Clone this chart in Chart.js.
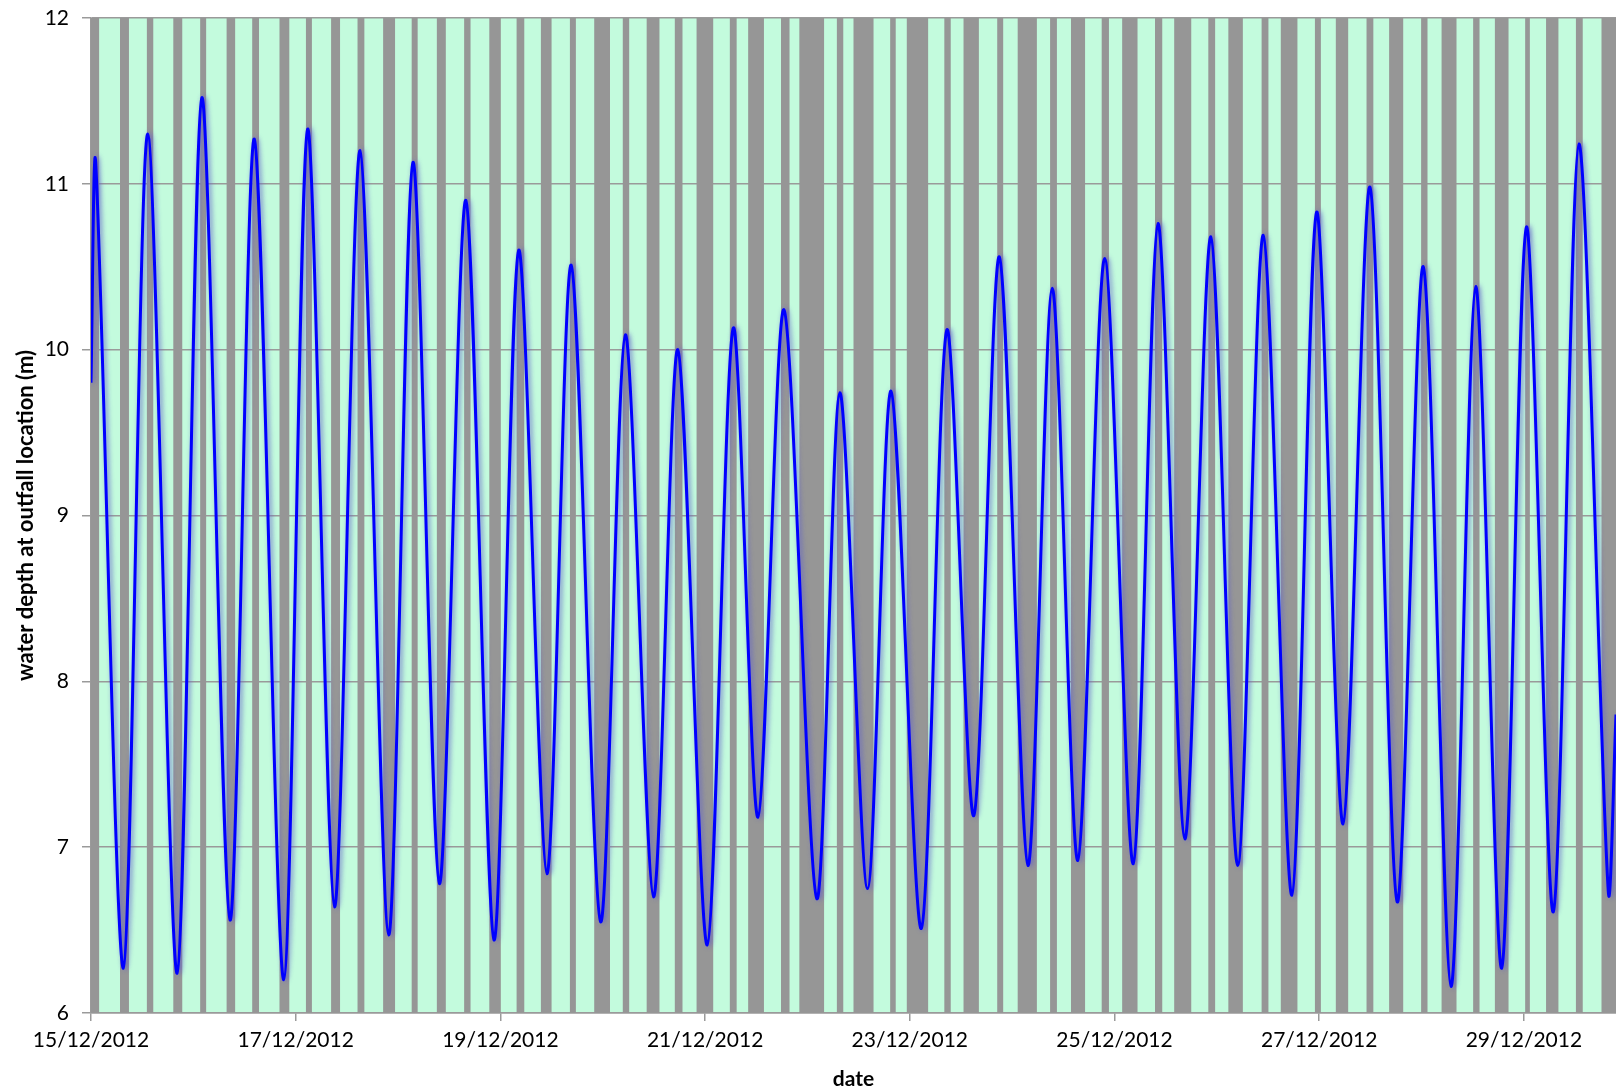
<!DOCTYPE html>
<html>
<head>
<meta charset="utf-8">
<script src="https://cdn.jsdelivr.net/npm/chart.js@4/dist/chart.umd.min.js"></script>
<style>
  html, body { margin: 0; padding: 0; background: #fff; }
  #wrap { width: 1616px; height: 1092px; }
</style>
</head>
<body>
<div id="wrap"><canvas id="line-chart"></canvas></div>
<script>
// hours after 15/12/2012 00:00
let tideHours = [0, 1.1, 7.6, 13.3, 20.2, 26.0, 32.6, 38.3, 45.2, 50.8, 57.1, 63.1, 69.8, 75.5, 81.7,
    87.9, 94.5, 100.3, 106.9, 112.6, 119.5, 125.3, 131.9, 137.6, 144.5, 150.6, 156.4, 162.5, 170.2,
    175.6, 182.1, 187.6, 194.7, 200.7, 207.0, 213.0, 219.7, 225.4, 231.4, 237.7, 244.4, 250.2, 256.5,
    262.6, 268.9, 274.9, 281.6, 287.4, 293.6, 299.9, 306.3, 312.4, 318.9, 324.7, 330.8, 336.6, 342.9,
    348.9, 355.8, 357.6];
let tideDepth = [9.8, 11.13, 6.27, 11.30, 6.24, 11.52, 6.56, 11.27, 6.20, 11.33, 6.64, 11.20, 6.47, 11.13, 6.78,
    10.90, 6.44, 10.60, 6.84, 10.51, 6.55, 10.09, 6.70, 10.00, 6.41, 10.13, 7.18, 10.24, 6.69,
    9.74, 6.75, 9.75, 6.51, 10.12, 7.19, 10.56, 6.89, 10.37, 6.92, 10.55, 6.90, 10.76, 7.05,
    10.68, 6.89, 10.69, 6.71, 10.83, 7.14, 10.98, 6.67, 10.50, 6.16, 10.38, 6.27, 10.74, 6.61,
    11.24, 6.73, 7.8];

// grey periods (hours)
let greyStart = [0, 6.8, 13.1, 19.3, 25.6, 31.8, 37.8, 44.2, 50.4, 56.3, 62.5, 68.5, 75.2, 81.1, 87.5,
    93.4, 99.8, 105.5, 112.3, 118.0, 124.7, 130.3, 136.9, 142.0, 149.8, 154.1, 161.8, 166.1, 174.9,
    178.8, 187.4, 191.3, 200.1, 204.6, 212.5, 217.3, 224.9, 229.8, 237.0, 241.8, 249.5, 254.0, 262.0,
    266.7, 274.5, 279.0, 287.0, 291.9, 299.1, 304.4, 311.9, 316.7, 324.1, 329.2, 336.3, 341.2, 348.2, 354.2];
let greyEnd = [1.9, 8.9, 14.6, 21.4, 27.0, 33.8, 39.4, 46.5, 51.8, 58.4, 64.1, 71.3, 76.6, 83.2, 89.0,
    96.1, 101.6, 108.0, 113.7, 121.7, 126.2, 133.3, 138.7, 145.9, 151.4, 157.8, 163.8, 171.9, 176.4,
    183.5, 188.7, 196.3, 201.6, 208.2, 213.9, 221.8, 226.5, 233.1, 238.7, 245.4, 251.2, 258.0, 263.6,
    270.1, 276.1, 282.9, 288.4, 294.8, 300.7, 307.7, 313.4, 320.2, 325.6, 332.4, 337.4, 344.1, 349.8, 357.6];

let dateLabels = ['15/12/2012', '17/12/2012', '19/12/2012', '21/12/2012', '23/12/2012',
    '25/12/2012', '27/12/2012', '29/12/2012'];

let tidePoints = tideHours.map((h, i) => ({ x: h, y: tideDepth[i] }));
let greyPoints = [];
for (let i = 0; i < greyStart.length; i++) {
    greyPoints.push({ x: greyStart[i], y: 6 }, { x: greyStart[i], y: 12 },
        { x: greyEnd[i], y: 12 }, { x: greyEnd[i], y: 6 });
}

const plotBg = {
    id: 'plotBg',
    beforeDraw(chart) {
        const a = chart.chartArea, ctx = chart.ctx;
        ctx.save();
        ctx.fillStyle = '#c3fbdd';
        ctx.fillRect(a.left, a.top, a.right - a.left, a.bottom - a.top);
        ctx.restore();
    }
};

const glow = {
    id: 'glow',
    beforeDatasetDraw(chart, args) {
        if (args.index !== 1) return;
        const ctx = chart.ctx;
        ctx.save();
        ctx.shadowColor = 'rgba(100,100,200,0.9)';
        ctx.shadowBlur = 5;
        ctx.shadowOffsetX = 2;
        ctx.shadowOffsetY = 0;
    },
    afterDatasetDraw(chart, args) {
        if (args.index !== 1) return;
        chart.ctx.restore();
    }
};

Chart.defaults.font.family = 'Lato, "Open Sans", sans-serif';
Chart.defaults.color = '#000';

new Chart(document.getElementById('line-chart'), {
    type: 'line',
    data: {
        datasets: [{
            data: greyPoints,
            borderWidth: 0,
            pointRadius: 0,
            backgroundColor: '#969696',
            fill: 'start',
            tension: 0,
            order: 2
        }, {
            data: tidePoints,
            borderColor: '#0000ff',
            borderWidth: 3,
            pointRadius: 0,
            fill: false,
            tension: 0.3,
            order: 1
        }]
    },
    plugins: [plotBg, glow],
    options: {
        responsive: true,
        maintainAspectRatio: false,
        animation: false,
        layout: { padding: { top: 18, right: 0, left: 0, bottom: 0 } },
        plugins: {
            legend: { display: false },
            tooltip: { enabled: false }
        },
        scales: {
            x: {
                type: 'linear',
                min: 0,
                max: 357.6,
                afterFit: s => { s.height = 79; },
                ticks: {
                    stepSize: 48,
                    includeBounds: false,
                    autoSkip: false,
                    maxRotation: 0,
                    padding: 7,
                    font: { size: 21 },
                    callback: v => dateLabels[v / 48]
                },
                grid: { drawOnChartArea: false, drawTicks: true, tickLength: 8, color: '#9a9a9a', lineWidth: 1.5 },
                border: { color: '#9a9a9a', width: 1.5 },
                title: { display: true, text: 'date', font: { size: 21, weight: 'bold' }, padding: { top: 0, bottom: 0 } }
            },
            y: {
                min: 6,
                max: 12,
                afterFit: s => { s.width = 91; s.paddingTop = 0; s.paddingBottom = 0; },
                ticks: { stepSize: 1, padding: 13, font: { size: 21 } },
                grid: { color: '#9a9a9a', lineWidth: 1.5, tickLength: 9 },
                border: { color: '#9a9a9a', width: 1.5 },
                title: {
                    display: true,
                    text: 'water depth at outfall location (m)',
                    font: { size: 22, weight: 'bold' },
                    padding: { top: 13, bottom: 0 }
                }
            }
        }
    }
});
</script>
</body>
</html>
